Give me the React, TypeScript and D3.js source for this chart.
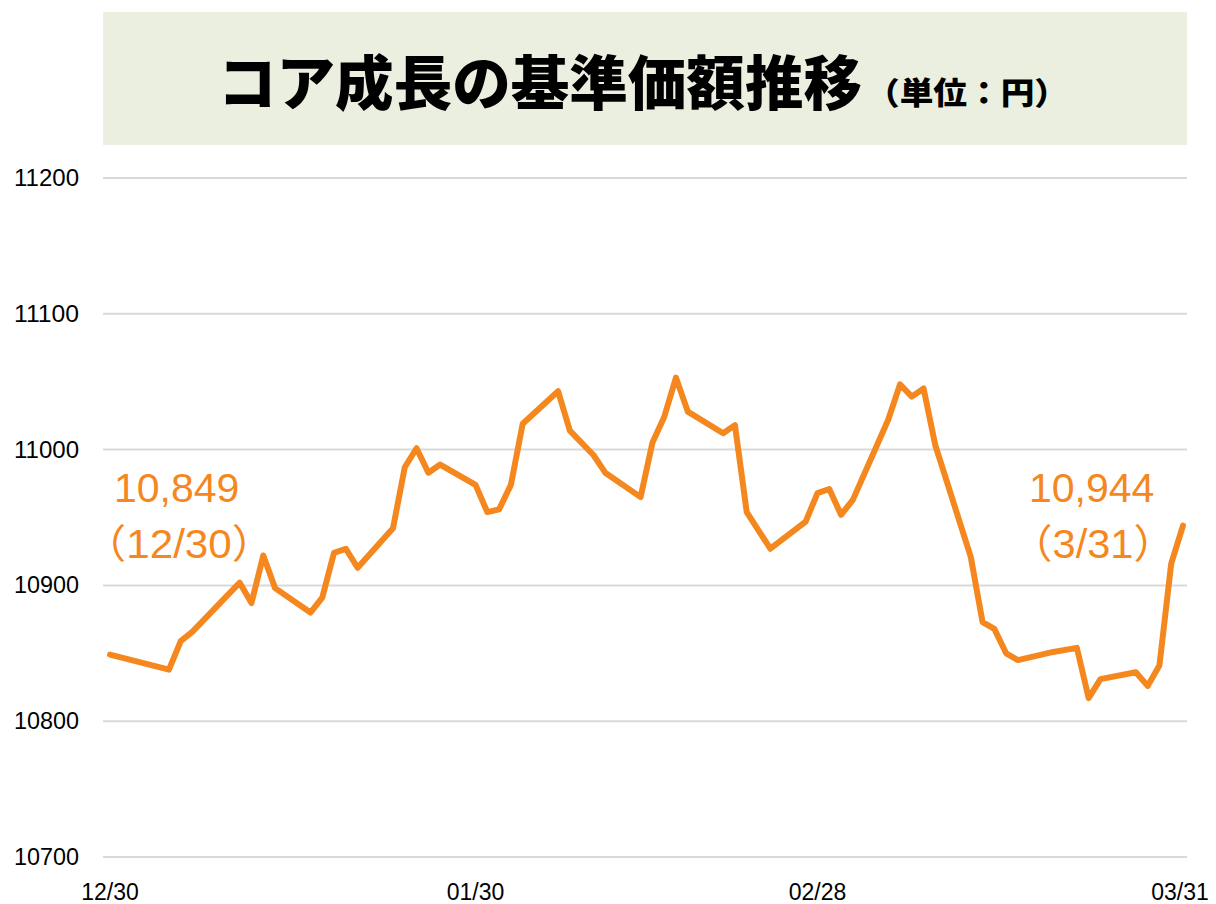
import React from "react";
import * as d3 from "d3";

const dates: string[] = [
  "2022-12-30", "2023-01-04", "2023-01-05", "2023-01-06", "2023-01-10", "2023-01-11",
  "2023-01-12", "2023-01-13", "2023-01-16", "2023-01-17", "2023-01-18", "2023-01-19",
  "2023-01-20", "2023-01-23", "2023-01-24", "2023-01-25", "2023-01-26", "2023-01-27",
  "2023-01-30", "2023-01-31", "2023-02-01", "2023-02-02", "2023-02-03", "2023-02-06",
  "2023-02-07", "2023-02-08", "2023-02-09", "2023-02-10", "2023-02-13", "2023-02-14",
  "2023-02-15", "2023-02-16", "2023-02-17", "2023-02-20", "2023-02-21", "2023-02-22",
  "2023-02-24", "2023-02-27", "2023-02-28", "2023-03-01", "2023-03-02", "2023-03-03",
  "2023-03-06", "2023-03-07", "2023-03-08", "2023-03-09", "2023-03-10", "2023-03-13",
  "2023-03-14", "2023-03-15", "2023-03-16", "2023-03-17", "2023-03-20", "2023-03-22",
  "2023-03-23", "2023-03-24", "2023-03-27", "2023-03-28", "2023-03-29", "2023-03-30",
  "2023-03-31",
];

const navValues: number[] = [
  10849, 10838, 10859, 10866, 10902, 10887,
  10922, 10898, 10880, 10891, 10924, 10927,
  10913, 10942, 10987, 11001, 10983, 10989,
  10974, 10954, 10956, 10974, 11019, 11043,
  11014, 11005, 10996, 10983, 10965, 11005,
  11024, 11053, 11028, 11012, 11018, 10954,
  10927, 10947, 10968, 10971, 10952, 10963,
  11022, 11048, 11039, 11045, 11003, 10921,
  10873, 10868, 10850, 10845, 10851, 10854,
  10817, 10831, 10836, 10826, 10841, 10916,
  10944,
];

const yTicks: number[] = [10700, 10800, 10900, 11000, 11100, 11200];
const xTickDates: string[] = ["2022-12-30", "2023-01-30", "2023-02-28", "2023-03-31"];
const xTickLabels: string[] = ["12/30", "01/30", "02/28", "03/31"];

const titleMain = "コア成長の基準価額推移";
const titleSub = "（単位：円）";
const startValueLabel = "10,849";
const startDateLabel = "（12/30）";
const endValueLabel = "10,944";
const endDateLabel = "（3/31）";

const ORANGE = "#F5871F";
const GRID = "#D9D9D9";

export default function App() {
  const parse = d3.timeParse("%Y-%m-%d");
  const data = dates.map((d, i) => ({ date: parse(d) as Date, value: navValues[i] }));

  const x = d3
    .scaleTime()
    .domain([parse(dates[0]) as Date, parse(dates[dates.length - 1]) as Date])
    .range([110, 1183]);
  const y = d3.scaleLinear().domain([10700, 11200]).range([857, 178]);

  const line = d3
    .line<{ date: Date; value: number }>()
    .x((d) => x(d.date))
    .y((d) => y(d.value));

  const numFont = "'Liberation Sans', Arial, 'Noto Sans CJK JP', sans-serif";
  const cjkFont = "'Noto Sans CJK JP', 'Noto Sans CJK SC', sans-serif";

  return (
    <svg
      width={1216}
      height={904}
      style={{ position: "absolute", left: 0, top: 0, background: "#fff" }}
    >
      <rect x={103} y={12} width={1084} height={133} fill="#EBEFDF" />
      <text
        x={218}
        y={105}
        fontFamily={cjkFont}
        fontWeight={900}
        fontSize={59}
        textLength={644}
        lengthAdjust="spacingAndGlyphs"
        fill="#000"
      >
        {titleMain}
      </text>
      <text
        x={866}
        y={104}
        fontFamily={cjkFont}
        fontWeight={900}
        fontSize={31}
        textLength={202}
        lengthAdjust="spacingAndGlyphs"
        fill="#000"
      >
        {titleSub}
      </text>

      {yTicks.map((t) => (
        <g key={t}>
          <line x1={103} x2={1187} y1={y(t)} y2={y(t)} stroke={GRID} strokeWidth={2} />
          <text
            x={79}
            y={y(t) + 8}
            textAnchor="end"
            fontFamily={numFont}
            fontSize={23}
            textLength={65}
            lengthAdjust="spacingAndGlyphs"
            fill="#000"
          >
            {t}
          </text>
        </g>
      ))}

      {xTickDates.map((d, i) => (
        <text
          key={d}
          x={Math.min(x(parse(d) as Date), 1180)}
          y={900}
          textAnchor="middle"
          fontFamily={numFont}
          fontSize={23}
          fill="#000"
        >
          {xTickLabels[i]}
        </text>
      ))}

      <path
        d={line(data) || ""}
        fill="none"
        stroke={ORANGE}
        strokeWidth={6}
        strokeLinejoin="round"
        strokeLinecap="round"
      />

      <text x={114} y={502} fontFamily={numFont} fontSize={41} fill={ORANGE}>
        {startValueLabel}
      </text>
      <text
        x={84}
        y={558}
        fontFamily={numFont}
        fontSize={40}
        fill={ORANGE}
        textLength={190}
        lengthAdjust="spacingAndGlyphs"
      >
        {startDateLabel}
      </text>
      <text x={1029} y={502} fontFamily={numFont} fontSize={41} fill={ORANGE}>
        {endValueLabel}
      </text>
      <text
        x={1011}
        y={558}
        fontFamily={numFont}
        fontSize={40}
        fill={ORANGE}
        textLength={164}
        lengthAdjust="spacingAndGlyphs"
      >
        {endDateLabel}
      </text>
    </svg>
  );
}
